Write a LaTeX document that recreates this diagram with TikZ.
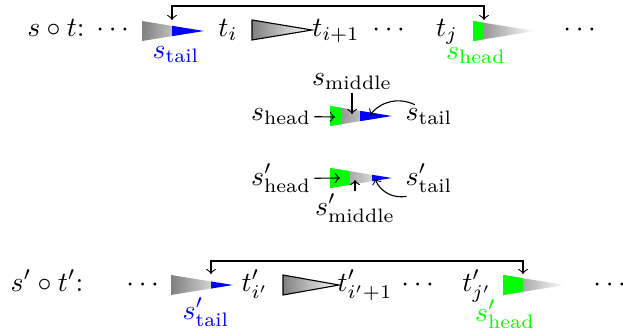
\documentclass[tikz,border=0pt]{standalone}
\usepackage{amsmath,amssymb}
\usepackage{xcolor}
\usepackage{tikz}
\usetikzlibrary{arrows.meta,positioning,calc}

\newcommand{\tri}[3]{(#1,#2-10) -- ++(#3,10) -- ++(-#3,10) -- cycle}

\begin{document}
\begin{tikzpicture}[
    x=0.36pt, y=-0.36pt,
    >=to,
    txt/.style={anchor=base, inner sep=1pt},
    tailtxt/.style={txt, text=blue},
    headtxt/.style={txt, text=green},
    grad/.style={left color=gray, right color=white}
]
\useasboundingbox (0,0) rectangle (623,335);

\shade[grad] \tri{142}{31}{62};
\begin{scope}
  \clip \tri{142}{31}{62};
  \fill[blue] (172,0) rectangle (210,60);
\end{scope}
\shadedraw[grad] \tri{252}{30}{60};
\shade[grad] \tri{473}{31}{62};
\begin{scope}
  \clip \tri{473}{31}{62};
  \fill[green] (460,0) rectangle (484,60);
\end{scope}

\node[txt] (st) at (56,36) {$s\circ t$:};
\node[txt] (dots1) at (115,36) {$\cdots$};
\node[txt] (ti) at (228,36) {$t_i$};
\node[txt] (tii) at (336,36) {$t_{i+1}$};
\node[txt] (dots2) at (391,36) {$\cdots$};
\node[txt] (tj) at (447,36) {$t_j$};
\node[txt] (dots3) at (582,36) {$\cdots$};
\node[tailtxt] (stail) at (176,58) {$s_{\text{tail}}$};
\node[headtxt] (shead) at (476,59) {$s_{\text{head}}$};

\coordinate (ta) at (172,20);
\coordinate (hb) at (484,20);
\draw[<->] (ta) -- ++(0,-14) -| (hb);

\shade[grad] \tri{330}{116}{62};
\begin{scope}
  \clip \tri{330}{116}{62};
  \fill[green] (320,90) rectangle (341,140);
  \fill[blue] (360,90) rectangle (400,140);
\end{scope}

\node[txt] (mh) at (281,120) {$s_{\text{head}}$};
\node[txt] (mm) at (352,85) {$s_{\text{middle}}$};
\node[txt] (mt) at (429,120) {$s_{\text{tail}}$};
\coordinate (mhp) at (335,117);
\coordinate (mmp) at (352,114);
\coordinate (mtp) at (370,115);
\draw[->] (mh) -- (mhp);
\draw[->] (mm) -- (mmp);
\draw[->] (mt) to[bend right=38] (mtp);

\shade[grad] \tri{330}{178}{62};
\begin{scope}
  \clip \tri{330}{178}{62};
  \fill[green] (320,150) rectangle (350,200);
  \fill[blue] (372,150) rectangle (400,200);
\end{scope}

\node[txt] (nh) at (281,185) {$s'_{\text{head}}$};
\node[txt] (nm) at (355,215) {$s'_{\text{middle}}$};
\node[txt] (nt) at (429,185) {$s'_{\text{tail}}$};
\coordinate (nhp) at (340,178);
\coordinate (nmp) at (355,180);
\coordinate (ntp) at (375,179);
\draw[->] (nh) -- (nhp);
\draw[->] (nm) -- (nmp);
\draw[->] (nt) to[bend left=38] (ntp);

\shade[grad] \tri{171}{285}{62};
\begin{scope}
  \clip \tri{171}{285}{62};
  \fill[blue] (211,260) rectangle (240,310);
\end{scope}
\shadedraw[grad] \tri{283}{285}{56};
\shade[grad] \tri{503}{285}{62};
\begin{scope}
  \clip \tri{503}{285}{62};
  \fill[green] (490,260) rectangle (523,310);
\end{scope}

\node[txt] (spt) at (47,291) {$s'\circ t'$:};
\node[txt] (dots4) at (145,291) {$\cdots$};
\node[txt] (tpi) at (255,291) {$t'_{i'}$};
\node[txt] (tpii) at (365,291) {$t'_{i'+1}$};
\node[txt] (dots5) at (420,291) {$\cdots$};
\node[txt] (tpj) at (477,291) {$t'_{j'}$};
\node[txt] (dots6) at (612,291) {$\cdots$};
\node[tailtxt] (sptail) at (206,319) {$s'_{\text{tail}}$};
\node[headtxt] (sphead) at (505,321) {$s'_{\text{head}}$};

\coordinate (tc) at (211,274);
\coordinate (hd) at (523,274);
\draw[<->] (tc) -- ++(0,-13) -| (hd);
\end{tikzpicture}
\end{document}
